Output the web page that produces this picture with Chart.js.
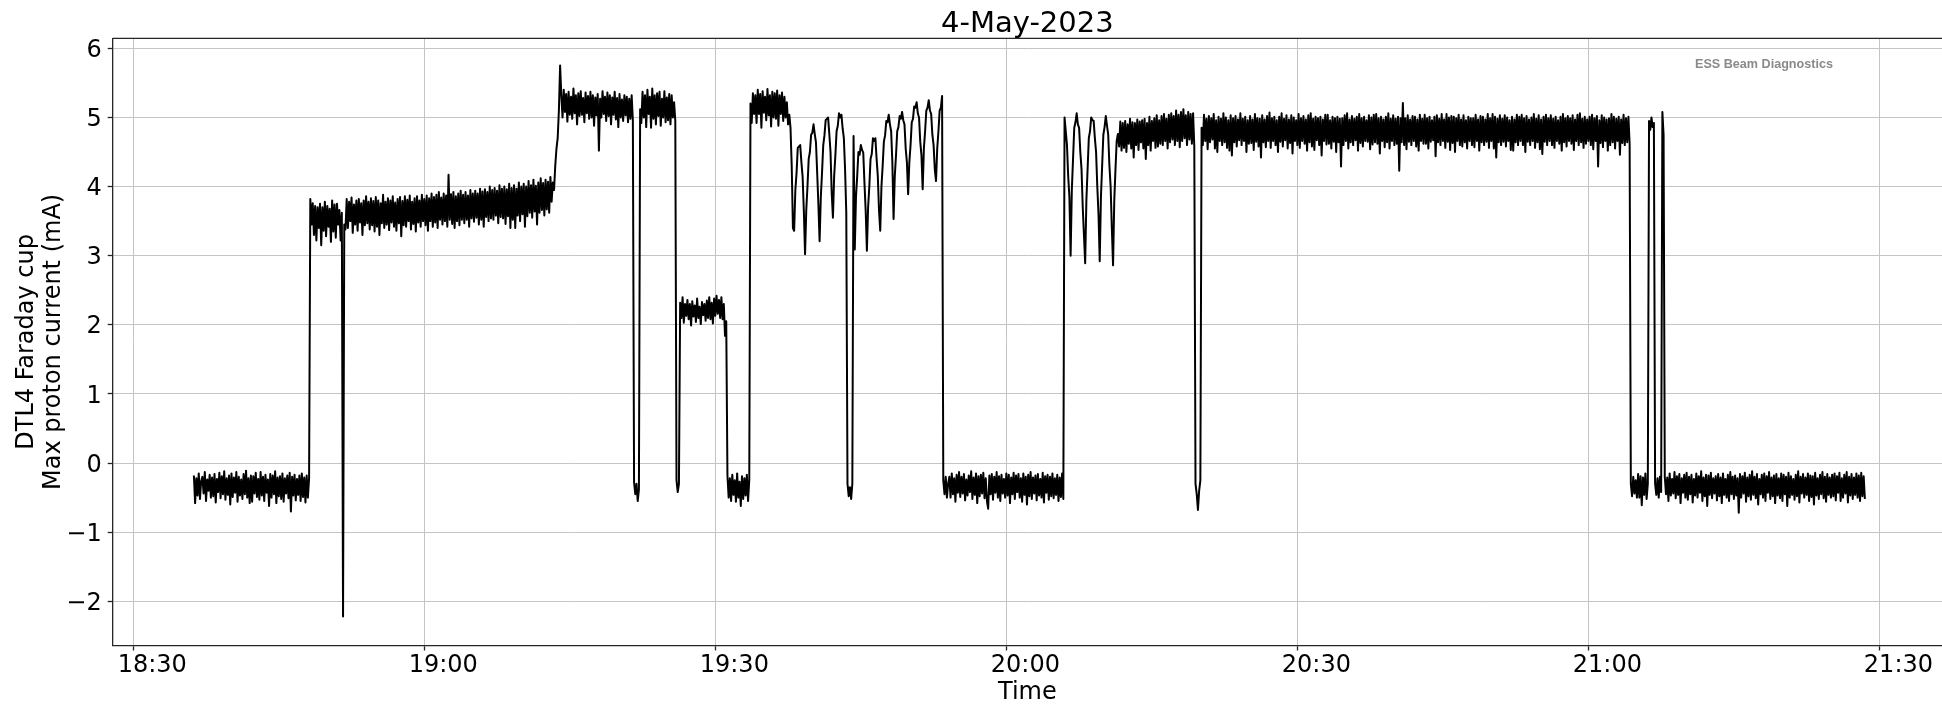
<!DOCTYPE html>
<html>
<head>
<meta charset="utf-8">
<title>DTL4 Faraday cup - 4-May-2023</title>
<script src="https://cdn.jsdelivr.net/npm/chart.js@4.4.1/dist/chart.umd.min.js"></script>
<style>
  html, body { margin: 0; padding: 0; background: #fff; }
  canvas { display: block; }
</style>
</head>
<body>
<canvas id="fcChart" width="1942" height="704"></canvas>
<script>
// --- Data: max proton current (mA), one sample every 7.5 s ---
// minutes are counted from 18:00, first sample at 18:36:15
const startMinute = 36.25;
const stepMinute = 0.125;

// each row = one minute m (samples m+0.125 ... m+1), first row is short
const current1836 = [
    -0.18, -0.58, -0.22, -0.47, -0.15, -0.52, -0.26,               // 36
    -0.2, -0.44, -0.13, -0.55, -0.24, -0.4, -0.17, -0.5,           // 37
    -0.21, -0.48, -0.16, -0.57, -0.23, -0.42, -0.14, -0.51,        // 38
    -0.19, -0.45, -0.12, -0.53, -0.22, -0.46, -0.18, -0.6,         // 39
    -0.15, -0.49, -0.21, -0.43, -0.13, -0.56, -0.2, -0.47,         // 40
    -0.24, -0.52, -0.16, -0.45, -0.11, -0.5, -0.22, -0.58,         // 41
    -0.18, -0.56, -0.19, -0.44, -0.14, -0.49, -0.23, -0.53,        // 42
    -0.13, -0.47, -0.2, -0.55, -0.17, -0.43, -0.24, -0.62,         // 43
    -0.16, -0.5, -0.18, -0.45, -0.12, -0.58, -0.21, -0.48,         // 44
    -0.19, -0.52, -0.15, -0.56, -0.22, -0.44, -0.18, -0.51,        // 45
    -0.14, -0.7, -0.2, -0.47, -0.17, -0.54, -0.23, -0.46,          // 46
    -0.18, -0.55, -0.15, -0.49, -0.21, -0.57, -0.18, -0.5,         // 47
    -0.22, 3.82, 3.45, 3.76, 3.3, 3.72, 3.22, 3.7,                 // 48
    3.4, 3.75, 3.15, 3.7, 3.36, 3.78, 3.28, 3.72,                  // 49
    3.42, 3.68, 3.2, 3.8, 3.35, 3.74, 3.26, 3.75,                  // 50
    3.45, 3.66, 3.22, 3.62, -2.22, 3.45, 3.38, 3.82,               // 51
    3.4, 3.78, 3.5, 3.84, 3.33, 3.74, 3.45, 3.8,                   // 52
    3.36, 3.82, 3.48, 3.76, 3.3, 3.8, 3.44, 3.86,                  // 53
    3.47, 3.78, 3.38, 3.83, 3.44, 3.79, 3.35, 3.85,                // 54
    3.42, 3.8, 3.3, 3.76, 3.47, 3.88, 3.4, 3.78,                   // 55
    3.45, 3.83, 3.37, 3.8, 3.48, 3.86, 3.42, 3.77,                 // 56
    3.36, 3.82, 3.47, 3.85, 3.28, 3.79, 3.44, 3.86,                // 57
    3.42, 3.81, 3.5, 3.87, 3.38, 3.78, 3.46, 3.83,                 // 58
    3.35, 3.86, 3.48, 3.8, 3.42, 3.88, 3.5, 3.82                   // 59
];

const current1900 = [
    3.44, 3.87, 3.36, 3.83, 3.5, 3.9, 3.42, 3.85,                  // 60
    3.48, 3.88, 3.4, 3.92, 3.52, 3.84, 3.45, 3.9,                  // 61
    3.5, 3.87, 3.42, 4.17, 3.52, 3.89, 3.46, 3.92,                 // 62
    3.4, 3.86, 3.5, 3.9, 3.44, 3.94, 3.52, 3.88,                   // 63
    3.47, 3.92, 3.52, 3.87, 3.42, 3.95, 3.54, 3.9,                 // 64
    3.49, 3.94, 3.55, 3.9, 3.45, 3.97, 3.52, 3.93,                 // 65
    3.42, 3.96, 3.56, 3.92, 3.5, 4.0, 3.54, 3.95,                  // 66
    3.52, 3.98, 3.58, 3.94, 3.47, 4.02, 3.56, 3.97,                // 67
    3.54, 4.0, 3.46, 3.96, 3.57, 4.04, 3.4, 3.98,                  // 68
    3.52, 4.02, 3.4, 3.97, 3.58, 4.06, 3.5, 4.0,                   // 69
    3.6, 4.04, 3.42, 4.0, 3.57, 4.08, 3.62, 4.02,                  // 70
    3.55, 4.1, 3.64, 4.01, 3.45, 4.06, 3.62, 4.12,                 // 71
    3.66, 4.05, 3.58, 4.1, 3.67, 4.07, 3.62, 4.14,                 // 72
    3.78, 4.06, 3.95, 4.3, 4.55, 4.7, 5.1, 5.75,                   // 73
    5.32, 5.0, 5.4, 5.08, 5.34, 4.94, 5.37, 5.04,                  // 74
    5.3, 4.98, 5.42, 5.06, 5.32, 4.9, 5.35, 5.02,                  // 75
    5.38, 5.04, 5.28, 4.93, 5.36, 5.06, 5.31, 4.98,                // 76
    5.37, 5.0, 5.32, 4.88, 5.29, 5.03, 5.34, 4.52,                 // 77
    5.27, 5.0, 5.38, 5.05, 5.3, 4.95, 5.36, 5.02,                  // 78
    5.32, 4.9, 5.29, 5.04, 5.37, 4.97, 5.28, 4.86,                 // 79
    5.34, 5.0, 5.26, 4.95, 5.32, 5.03, 5.3, 4.93,                  // 80
    5.27, 4.98, 5.32, 4.95, -0.28, -0.45, -0.3, -0.55,             // 81
    -0.38, 5.12, 4.92, 5.37, 5.0, 5.32, 4.86, 5.4,                 // 82
    5.05, 5.3, 4.85, 5.42, 4.98, 5.32, 4.9, 5.35,                  // 83
    5.02, 5.37, 4.88, 5.27, 5.0, 5.38, 4.93, 5.29,                 // 84
    4.96, 5.34, 4.9, 5.32, 5.0, 5.22, 4.95, -0.25,                 // 85
    -0.42, -0.3, 2.32, 2.1, 2.4, 2.03, 2.3, 2.13,                  // 86
    2.36, 2.08, 2.3, 1.99, 2.34, 2.12, 2.28, 2.04,                 // 87
    2.38, 2.1, 2.26, 2.01, 2.33, 2.14, 2.3, 2.06,                  // 88
    2.35, 2.1, 2.4, 2.08, 2.32, 2.02, 2.38, 2.13                   // 89
];

const current1930 = [
    2.42, 2.16, 2.36, 2.1, 2.4, 2.08, 2.3, 1.84,                   // 90
    2.05, -0.18, -0.5, -0.22, -0.55, -0.17, -0.46, -0.25,          // 91
    -0.56, -0.15, -0.5, -0.27, -0.62, -0.19, -0.52, -0.22,         // 92
    -0.47, -0.17, -0.55, -0.24, 5.2, 4.92, 5.35, 5.05,             // 93
    5.32, 4.92, 5.4, 5.05, 5.34, 4.85, 5.38, 5.07,                 // 94
    5.3, 4.96, 5.41, 5.03, 5.32, 4.87, 5.37, 5.0,                  // 95
    5.35, 4.98, 5.39, 4.88, 5.32, 5.05, 5.36, 4.95,                // 96
    5.3, 5.0, 5.22, 4.9, 5.04, 4.85, 4.3, 3.4,                     // 97
    3.36, 3.95, 4.2, 4.56, 4.58, 4.6, 4.35, 4.14,                  // 98
    3.65, 3.02, 3.66, 4.0, 4.4, 4.5, 4.75, 4.78,                   // 99
    4.9, 4.76, 4.64, 4.2, 3.74, 3.21, 3.85, 4.2,                   // 100
    4.6, 4.74, 4.96, 4.98, 5.0, 4.76, 4.5, 3.9,                    // 101
    3.55, 4.15, 4.45, 4.8, 4.88, 5.06, 5.0, 5.04,                  // 102
    4.84, 4.7, 4.25, 3.62, -0.3, -0.48, -0.35, -0.52,              // 103
    -0.3, 4.73, 3.09, 3.85, 4.15, 4.5, 4.46, 4.6,                  // 104
    4.53, 4.49, 4.05, 3.65, 3.07, 3.7, 4.0, 4.4,                   // 105
    4.47, 4.7, 4.66, 4.7, 4.4, 4.15, 3.65, 3.36,                   // 106
    4.0, 4.3, 4.65, 4.74, 4.95, 4.93, 5.04, 4.9,                   // 107
    4.8, 4.35, 3.53, 4.15, 4.45, 4.8, 4.86, 5.02,                  // 108
    4.98, 5.08, 4.96, 4.9, 4.55, 4.35, 3.89, 4.35,                 // 109
    4.6, 4.93, 4.98, 5.16, 5.14, 5.22, 5.06, 5.0,                  // 110
    4.65, 4.45, 3.96, 4.55, 4.8, 5.1, 5.14, 5.25,                  // 111
    5.1, 5.05, 4.75, 4.6, 4.25, 4.08, 4.55, 4.8,                   // 112
    5.1, 5.14, 5.31, -0.25, -0.45, -0.2, -0.5, -0.3,               // 113
    -0.2, -0.5, -0.15, -0.45, -0.22, -0.56, -0.17, -0.43,          // 114
    -0.13, -0.49, -0.2, -0.44, -0.16, -0.54, -0.24, -0.47,         // 115
    -0.18, -0.42, -0.12, -0.52, -0.21, -0.46, -0.15, -0.58,        // 116
    -0.19, -0.48, -0.17, -0.44, -0.14, -0.51, -0.22, -0.55,        // 117
    -0.66, -0.18, -0.45, -0.16, -0.53, -0.2, -0.43, -0.13,         // 118
    -0.5, -0.19, -0.55, -0.17, -0.44, -0.23, -0.5, -0.15           // 119
];

const current2000 = [
    -0.47, -0.17, -0.58, -0.21, -0.45, -0.14, -0.52, -0.18,        // 120
    -0.42, -0.16, -0.5, -0.22, -0.56, -0.15, -0.46, -0.2,          // 121
    -0.6, -0.17, -0.48, -0.13, -0.52, -0.21, -0.44, -0.18,         // 122
    -0.54, -0.16, -0.47, -0.23, -0.5, -0.14, -0.57, -0.19,         // 123
    -0.43, -0.17, -0.53, -0.2, -0.48, -0.15, -0.51, -0.22,         // 124
    -0.46, -0.17, -0.55, -0.21, -0.49, -0.15, -0.52, 5.0,          // 125
    4.8, 4.6, 4.15, 3.85, 3.0, 3.95, 4.4, 4.85,                    // 126
    4.93, 5.06, 4.9, 4.85, 4.5, 4.25, 3.7, 3.3,                    // 127
    2.89, 3.8, 4.25, 4.7, 4.8, 5.0, 4.96, 4.95,                    // 128
    4.7, 4.5, 4.0, 3.6, 2.92, 3.85, 4.3, 4.75,                     // 129
    4.86, 5.02, 4.88, 4.75, 4.3, 4.0, 3.4, 2.86,                   // 130
    3.8, 4.25, 4.66, 4.76, 4.58, 4.94, 4.52, 4.92,                 // 131
    4.56, 4.95, 4.5, 4.9, 4.62, 4.98, 4.55, 4.93,                  // 132
    4.42, 4.92, 4.6, 4.97, 4.53, 4.94, 4.64, 4.96,                 // 133
    4.55, 4.98, 4.4, 4.92, 4.6, 5.01, 4.52, 4.95,                  // 134
    4.66, 4.99, 4.56, 5.03, 4.58, 4.96, 4.62, 5.02,                // 135
    4.6, 5.05, 4.66, 4.98, 4.55, 5.04, 4.64, 5.06,                 // 136
    4.68, 5.02, 4.6, 5.1, 4.66, 5.04, 4.57, 5.08,                  // 137
    4.66, 5.12, 4.7, 5.03, 4.6, 5.08, 4.68, 5.05,                  // 138
    4.62, 5.06, 4.58, -0.3, -0.45, -0.68, -0.4, -0.25,             // 139
    4.85, 4.6, 5.04, 4.66, 4.98, 4.54, 5.02, 4.64,                 // 140
    4.99, 4.68, 5.05, 4.55, 4.96, 4.5, 5.01, 4.66,                 // 141
    4.98, 4.6, 5.06, 4.64, 5.0, 4.56, 4.96, 4.52,                  // 142
    5.03, 4.45, 4.99, 4.64, 5.02, 4.58, 4.97, 4.67,                // 143
    5.06, 4.6, 4.98, 4.66, 5.01, 4.5, 4.96, 4.62,                  // 144
    5.02, 4.63, 4.97, 4.53, 5.05, 4.65, 4.99, 4.58,                // 145
    4.98, 4.42, 5.03, 4.64, 4.97, 4.57, 5.02, 4.66,                // 146
    5.07, 4.56, 4.99, 4.66, 5.01, 4.6, 4.96, 4.5,                  // 147
    5.01, 4.65, 5.06, 4.58, 4.98, 4.67, 5.03, 4.55,                // 148
    4.97, 4.63, 5.03, 4.48, 5.0, 4.66, 4.96, 4.6                   // 149
];

const current2030 = [
    5.05, 4.56, 4.99, 4.66, 5.02, 4.62, 4.97, 4.52,                // 150
    5.03, 4.64, 5.06, 4.58, 4.98, 4.53, 5.01, 4.67,                // 151
    4.99, 4.6, 5.01, 4.45, 4.97, 4.66, 5.04, 4.61,                 // 152
    5.04, 4.62, 4.96, 4.55, 5.01, 4.65, 4.99, 4.5,                 // 153
    5.01, 4.64, 4.98, 4.29, 4.99, 4.6, 5.03, 4.66,                 // 154
    5.06, 4.55, 4.97, 4.64, 5.02, 4.6, 4.98, 4.67,                 // 155
    5.01, 4.52, 5.05, 4.63, 4.99, 4.58, 5.01, 4.66,                // 156
    4.96, 4.65, 5.03, 4.54, 5.0, 4.61, 5.04, 4.64,                 // 157
    5.05, 4.62, 4.99, 4.48, 5.01, 4.66, 4.97, 4.57,                // 158
    5.01, 4.64, 5.06, 4.55, 4.98, 4.66, 5.03, 4.6,                 // 159
    4.98, 4.62, 5.01, 4.23, 4.99, 4.64, 5.21, 4.6,                 // 160
    4.99, 4.54, 5.03, 4.65, 4.97, 4.6, 5.02, 4.66,                 // 161
    5.01, 4.58, 4.97, 4.52, 5.04, 4.66, 4.98, 4.62,                // 162
    5.04, 4.62, 4.99, 4.55, 5.01, 4.65, 4.96, 4.67,                // 163
    5.01, 4.44, 5.03, 4.64, 4.98, 4.6, 5.05, 4.66,                 // 164
    4.97, 4.56, 5.05, 4.65, 5.0, 4.53, 5.02, 4.63,                 // 165
    5.01, 4.5, 4.99, 4.66, 5.04, 4.6, 4.97, 4.58,                  // 166
    5.03, 4.64, 4.96, 4.55, 5.01, 4.66, 4.99, 4.6,                 // 167
    4.99, 4.57, 5.04, 4.66, 4.97, 4.52, 5.02, 4.64,                // 168
    5.01, 4.6, 4.97, 4.65, 5.05, 4.56, 4.99, 4.66,                 // 169
    5.05, 4.55, 5.01, 4.42, 4.98, 4.64, 5.03, 4.6,                 // 170
    4.98, 4.65, 5.03, 4.58, 5.0, 4.66, 4.96, 4.53,                 // 171
    5.01, 4.52, 4.97, 4.64, 5.04, 4.6, 5.01, 4.66,                 // 172
    5.04, 4.6, 4.99, 4.5, 5.02, 4.65, 4.97, 4.6,                   // 173
    5.0, 4.66, 5.05, 4.56, 4.98, 4.64, 5.03, 4.54,                 // 174
    4.97, 4.47, 5.01, 4.65, 5.04, 4.6, 4.99, 4.66,                 // 175
    5.03, 4.6, 4.98, 4.56, 5.01, 4.66, 4.96, 4.62,                 // 176
    5.01, 4.52, 5.05, 4.64, 4.99, 4.58, 5.02, 4.66,                // 177
    4.99, 4.62, 5.03, 4.53, 4.97, 4.66, 5.04, 4.6,                 // 178
    5.06, 4.64, 4.98, 4.56, 5.01, 4.62, 4.97, 4.66                 // 179
];

const current2100 = [
    5.01, 4.6, 5.04, 4.54, 4.99, 4.66, 5.02, 4.29,                 // 180
    4.96, 4.63, 5.03, 4.57, 5.0, 4.66, 4.97, 4.52,                 // 181
    4.99, 4.6, 5.05, 4.64, 5.01, 4.55, 4.98, 4.66,                 // 182
    5.01, 4.46, 4.97, 4.63, 5.04, 4.6, 4.99, 4.64,                 // 183
    5.01, 4.62, -0.3, -0.48, -0.2, -0.44, -0.25, -0.5,             // 184
    -0.16, -0.5, -0.19, -0.61, -0.21, -0.46, -0.15, -0.52,         // 185
    -0.3, 4.95, 4.82, 5.0, 4.86, 4.92, -0.3, -0.46,                // 186
    -0.22, -0.5, -0.2, -0.42, 5.08, 4.75, -0.2, -0.45,             // 187
    -0.21, -0.55, -0.15, -0.47, -0.23, -0.44, -0.13, -0.51,        // 188
    -0.19, -0.46, -0.16, -0.58, -0.22, -0.43, -0.17, -0.5,         // 189
    -0.14, -0.53, -0.2, -0.45, -0.17, -0.57, -0.23, -0.47,         // 190
    -0.15, -0.5, -0.19, -0.43, -0.12, -0.55, -0.21, -0.48,         // 191
    -0.17, -0.62, -0.18, -0.46, -0.14, -0.51, -0.22, -0.44,        // 192
    -0.19, -0.54, -0.16, -0.48, -0.21, -0.58, -0.15, -0.46,        // 193
    -0.23, -0.5, -0.17, -0.55, -0.13, -0.45, -0.2, -0.52,          // 194
    -0.18, -0.47, -0.22, -0.72, -0.16, -0.5, -0.19, -0.44,         // 195
    -0.14, -0.56, -0.21, -0.48, -0.17, -0.53, -0.12, -0.46,        // 196
    -0.2, -0.51, -0.16, -0.6, -0.23, -0.45, -0.17, -0.5,           // 197
    -0.15, -0.55, -0.19, -0.43, -0.13, -0.52, -0.21, -0.48,        // 198
    -0.18, -0.58, -0.16, -0.47, -0.22, -0.51, -0.15, -0.55,        // 199
    -0.17, -0.45, -0.2, -0.62, -0.14, -0.5, -0.19, -0.46,          // 200
    -0.23, -0.53, -0.17, -0.48, -0.12, -0.57, -0.2, -0.44,         // 201
    -0.16, -0.5, -0.21, -0.46, -0.15, -0.55, -0.18, -0.49,         // 202
    -0.19, -0.6, -0.14, -0.47, -0.22, -0.52, -0.17, -0.45,         // 203
    -0.13, -0.51, -0.2, -0.56, -0.16, -0.46, -0.21, -0.5,          // 204
    -0.17, -0.48, -0.15, -0.54, -0.19, -0.43, -0.14, -0.55,        // 205
    -0.22, -0.5, -0.17, -0.44, -0.13, -0.57, -0.2, -0.47,          // 206
    -0.16, -0.52, -0.21, -0.46, -0.15, -0.5, -0.18, -0.55,         // 207
    -0.14, -0.48, -0.19, -0.52                                     // 208
];

// axis ticks: every 30 min on x, every 1 mA on y
const xTickStep = 30;
const yTickStep = 1;

// --- Build the point list for Chart.js ---
const allCurrent = [].concat(current1836, current1900, current1930, current2000, current2030, current2100);
const points = allCurrent.map((v, i) => ({ x: startMinute + i * stepMinute, y: v }));

// minutes after 18:00 -> "HH:MM"
function minuteLabel(v) {
    const h = 18 + Math.floor(v / 60);
    const m = Math.round(v % 60);
    return h + ':' + String(m).padStart(2, '0');
}

// top spine + watermark text
const framePlugin = {
    id: 'frame',
    afterDraw(chart) {
        const { ctx, chartArea } = chart;
        ctx.save();
        ctx.strokeStyle = '#262626';
        ctx.lineWidth = 1.3;
        ctx.beginPath();
        ctx.moveTo(chartArea.left, chartArea.top);
        ctx.lineTo(chartArea.right, chartArea.top);
        ctx.stroke();

        ctx.fillStyle = '#8a8a8a';
        ctx.font = 'bold 12.6px "Liberation Sans", Arial, sans-serif';
        ctx.textAlign = 'center';
        ctx.textBaseline = 'middle';
        ctx.fillText('ESS Beam Diagnostics', 1764, 64.3);
        ctx.restore();
    }
};

Chart.defaults.font.family = '"DejaVu Sans", sans-serif';
Chart.defaults.color = '#000';

const ctx = document.getElementById('fcChart').getContext('2d');
const fcChart = new Chart(ctx, {
    type: 'line',
    data: {
        datasets: [{
            data: points,
            borderColor: '#000',
            borderWidth: 2,
            borderJoinStyle: 'round',
            pointRadius: 0,
            tension: 0,
            fill: false
        }]
    },
    options: {
        responsive: false,
        animation: false,
        parsing: false,
        normalized: true,
        events: [],
        layout: { padding: 0 },
        plugins: {
            legend: { display: false },
            tooltip: { enabled: false },
            title: {
                display: true,
                text: '4-May-2023',
                fullSize: false,
                color: '#000',
                font: { size: 29, weight: 'normal', lineHeight: 0.9 },
                padding: { top: 11.25, bottom: 0.95 }
            }
        },
        scales: {
            x: {
                type: 'linear',
                min: 27.88,
                max: 216.45,
                afterFit(scale) { scale.height = 58.5; },
                border: { color: '#262626', width: 1.3 },
                grid: { color: '#c4c4c4', lineWidth: 1, tickLength: 5, tickColor: '#262626', tickWidth: 1.3 },
                ticks: {
                    stepSize: xTickStep,
                    includeBounds: false,
                    autoSkip: false,
                    maxRotation: 0,
                    padding: 3.5,
                    labelOffset: 19,
                    font: { size: 24, lineHeight: 1 },
                    callback: (v) => minuteLabel(v)
                },
                title: {
                    display: true,
                    text: 'Time',
                    font: { size: 24, lineHeight: 0.9 },
                    padding: { top: 0, bottom: 0 }
                }
            },
            y: {
                min: -2.64,
                max: 6.145,
                afterFit(scale) { scale.width = 112.7; },
                border: { color: '#262626', width: 1.3 },
                grid: { color: '#c4c4c4', lineWidth: 1, tickLength: 5, tickColor: '#262626', tickWidth: 1.3 },
                ticks: {
                    stepSize: yTickStep,
                    includeBounds: false,
                    padding: 6,
                    labelOffset: 2.4,
                    font: { size: 24 },
                    callback: (v) => String(v).replace('-', '\u2212')
                },
                title: {
                    display: true,
                    text: ['DTL4 Faraday cup', 'Max proton current (mA)'],
                    font: { size: 24, lineHeight: 1.1 },
                    padding: { top: 14, bottom: 0 }
                }
            }
        }
    },
    plugins: [framePlugin]
});
</script>
</body>
</html>
